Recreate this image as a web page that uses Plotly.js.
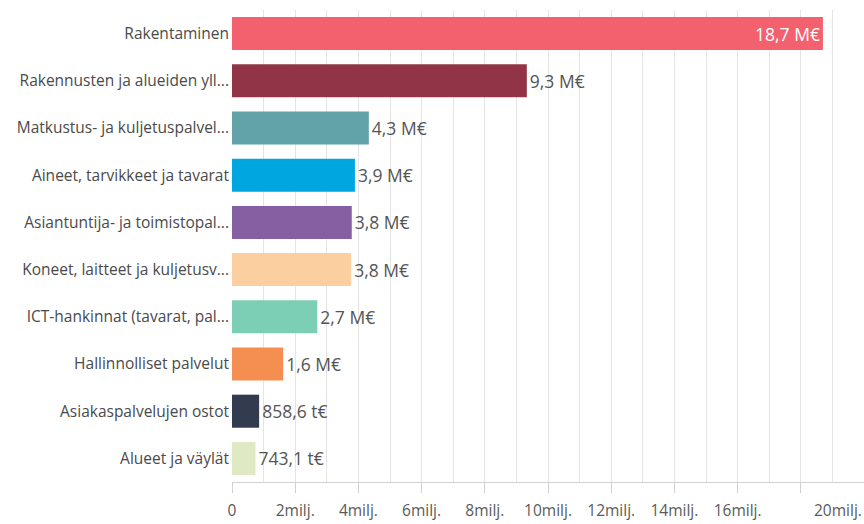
<!DOCTYPE html>
<html>
<head>
<meta charset="utf-8">
<script src="https://cdn.plot.ly/plotly-3.0.1.min.js"></script>
<style>html,body{margin:0;padding:0;background:#fff;}#chart{width:864px;height:524px;}</style>
</head>
<body>
<div id="chart"></div>
<script>
const categories = [
  "Rakentaminen",
  "Rakennusten ja alueiden yll...",
  "Matkustus- ja kuljetuspalvel...",
  "Aineet, tarvikkeet ja tavarat",
  "Asiantuntija- ja toimistopal...",
  "Koneet, laitteet ja kuljetusv...",
  "ICT-hankinnat (tavarat, pal...",
  "Hallinnolliset palvelut",
  "Asiakaspalvelujen ostot",
  "Alueet ja väylät"
];
const values = [18.7, 9.33, 4.33, 3.89, 3.79, 3.77, 2.70, 1.62, 0.8586, 0.7431];
const valueLabels = ["18,7 M€", "9,3 M€", "4,3 M€", "3,9 M€", "3,8 M€", "3,8 M€", "2,7 M€", "1,6 M€", "858,6 t€", "743,1 t€"];
const barColors = ["#f3616f", "#923447", "#62a3aa", "#00a6df", "#865ea2", "#fbcf9f", "#7ccfb4", "#f58e51", "#333b4f", "#dfeac4"];
const tickValues = [0, 2, 4, 6, 8, 10, 12, 14, 16, 18, 20];
const tickLabels = ["0", "2milj.", "4milj.", "6milj.", "8milj.", "10milj.", "12milj.", "14milj.", "16milj.", "", ""];
const lastTickLabel = "20milj.";

const positions = values.map((v, i) => i === 0 ? "inside" : "outside");
const textColors = values.map((v, i) => i === 0 ? "#ffffff" : "#555555");

const trace = {
  type: "bar",
  orientation: "h",
  x: values,
  y: categories,
  marker: {color: barColors},
  width: 0.7,
  text: valueLabels,
  textposition: positions,
  insidetextanchor: "end",
  textfont: {family: "'Open Sans', sans-serif", size: 17.5, color: textColors},
  cliponaxis: false,
  hoverinfo: "none"
};

const layout = {
  width: 864,
  height: 524,
  margin: {l: 232, r: 0, t: 10, b: 42},
  paper_bgcolor: "#ffffff",
  plot_bgcolor: "#ffffff",
  showlegend: false,
  font: {family: "'Open Sans', sans-serif", color: "#555555"},
  xaxis: {
    range: [0, 20],
    tickmode: "array",
    tickvals: tickValues,
    ticktext: tickLabels,
    ticks: "outside",
    ticklen: 10,
    tickcolor: "#d0d0d0",
    showgrid: true,
    gridcolor: "#e4e4e4",
    minor: {tickmode: "linear", dtick: 1, showgrid: true, gridcolor: "#e4e4e4", ticks: ""},
    showline: true,
    linecolor: "#d0d0d0",
    zeroline: false,
    tickfont: {size: 15.5, color: "#5a5a5a"},
    ticklabelstandoff: 4,
    fixedrange: true
  },
  yaxis: {
    autorange: "reversed",
    showgrid: false,
    zeroline: false,
    showline: false,
    ticks: "",
    ticklabelstandoff: 2,
    tickfont: {size: 15.5, color: "#4a4a4a"},
    automargin: false,
    fixedrange: true
  },
  annotations: [{
    text: lastTickLabel,
    x: 20, xref: "x",
    y: -0.031, yref: "paper",
    xanchor: "right", yanchor: "top",
    showarrow: false,
    font: {size: 15.5, color: "#5a5a5a"}
  }],
  bargap: 0.3
};

Plotly.newPlot("chart", [trace], layout, {displayModeBar: false, staticPlot: true});
</script>
</body>
</html>
